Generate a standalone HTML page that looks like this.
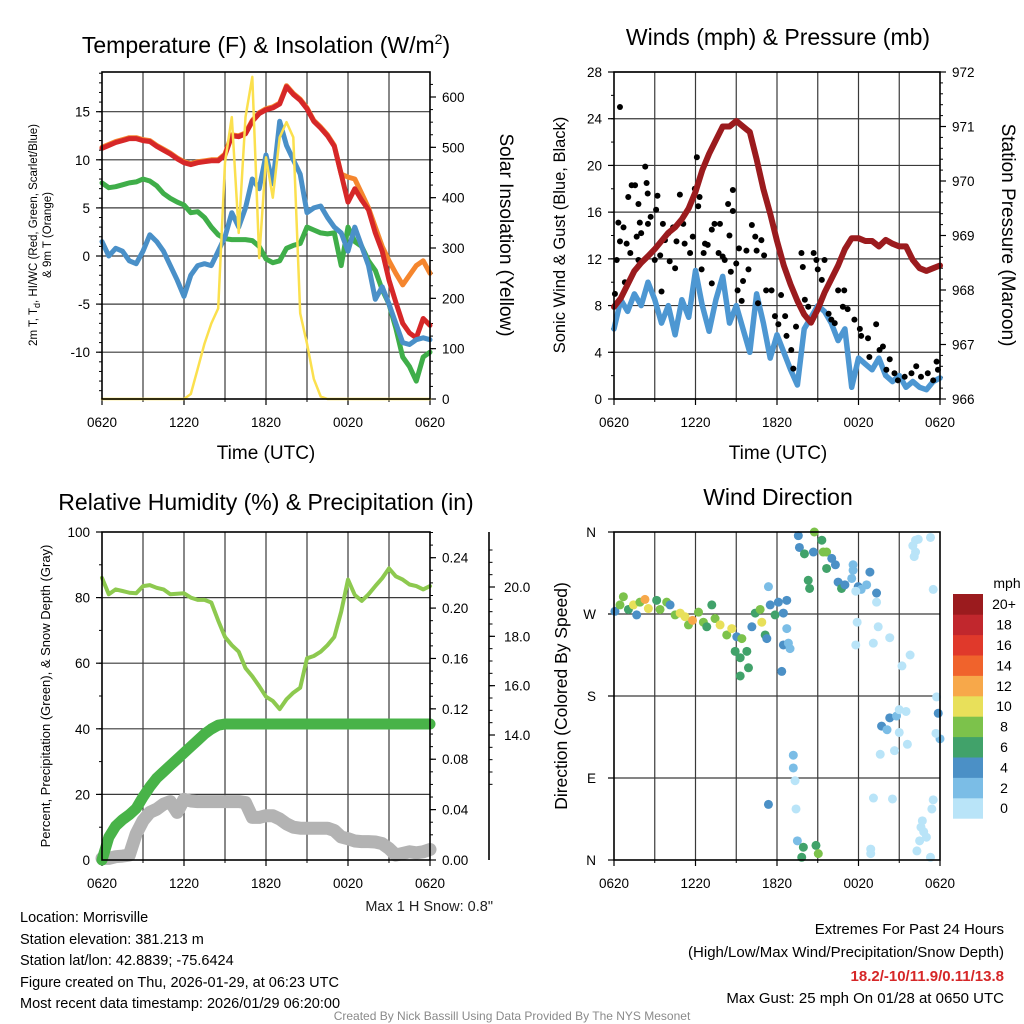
<!DOCTYPE html>
<html><head><meta charset="utf-8"><style>
body{margin:0;background:#fff;}
svg{display:block;font-family:"Liberation Sans",Arial,sans-serif;}
</style></head><body>
<svg id="s" width="1024" height="1024" viewBox="0 0 1024 1024" xmlns="http://www.w3.org/2000/svg">
<rect width="1024" height="1024" fill="#fff"/>
<text x="266" y="53" font-size="23" text-anchor="middle">Temperature (F) &amp; Insolation (W/m<tspan dy="-9" font-size="14">2</tspan><tspan dy="9">)</tspan></text>
<text x="778" y="45" font-size="23" text-anchor="middle">Winds (mph) &amp; Pressure (mb)</text>
<text x="266" y="510" font-size="23" text-anchor="middle">Relative Humidity (%) &amp; Precipitation (in)</text>
<text x="778" y="505" font-size="23" text-anchor="middle">Wind Direction</text>
<text x="266" y="459" font-size="19" text-anchor="middle">Time (UTC)</text>
<text x="778" y="459" font-size="19" text-anchor="middle">Time (UTC)</text>
<text transform="translate(37,235) rotate(-90)" font-size="11.5" text-anchor="middle">2m T, T<tspan dy="3" font-size="9">d</tspan><tspan dy="-3">, HI/WC (Red, Green, Scarlet/Blue)</tspan></text>
<text transform="translate(51,235) rotate(-90)" font-size="11.5" text-anchor="middle">&amp; 9m T (Orange)</text>
<text transform="translate(500,235) rotate(90)" font-size="19" text-anchor="middle">Solar Insolation (Yellow)</text>
<text transform="translate(565,235) rotate(-90)" font-size="16.5" text-anchor="middle">Sonic Wind &amp; Gust (Blue, Black)</text>
<text transform="translate(1002,235) rotate(90)" font-size="19" text-anchor="middle">Station Pressure (Maroon)</text>
<text transform="translate(50,696) rotate(-90)" font-size="13" text-anchor="middle">Percent, Precipitation (Green), &amp; Snow Depth (Gray)</text>
<text transform="translate(567,696) rotate(-90)" font-size="17.5" text-anchor="middle">Direction (Colored By Speed)</text>
<text x="493" y="911" font-size="14.5" text-anchor="end" fill="#222">Max 1 H Snow: 0.8"</text>
<g font-size="14.5" fill="#000">
<text x="20" y="922">Location: Morrisville</text>
<text x="20" y="944">Station elevation: 381.213 m</text>
<text x="20" y="965">Station lat/lon: 42.8839; -75.6424</text>
<text x="20" y="987">Figure created on Thu, 2026-01-29, at 06:23 UTC</text>
<text x="20" y="1008">Most recent data timestamp: 2026/01/29 06:20:00</text>
</g>
<g font-size="15" text-anchor="end">
<text x="1004" y="934">Extremes For Past 24 Hours</text>
<text x="1004" y="957">(High/Low/Max Wind/Precipitation/Snow Depth)</text>
<text x="1004" y="981" fill="#d62728" font-weight="bold">18.2/-10/11.9/0.11/13.8</text>
<text x="1004" y="1003">Max Gust: 25 mph On 01/28 at 0650 UTC</text>
</g>
<text x="512" y="1020" font-size="12" text-anchor="middle" fill="#8a8a8a">Created By Nick Bassill Using Data Provided By The NYS Mesonet</text>
<g id="g"></g>
</svg>
<script>
// ---- data ----
const hours = []; for (let i = 0; i <= 48; i++) hours.push(i * 0.5);
const xTickLabels = ["0620","1220","1820","0020","0620"];
const tempRed = [11.2,11.5,11.8,12.0,12.2,12.2,12.0,11.9,11.4,11.0,10.6,10.1,9.7,9.5,9.7,9.8,9.9,9.9,10.5,12.5,12.4,12.7,14.0,14.8,15.2,15.4,15.8,17.6,16.8,16.2,15.3,14.0,13.3,12.5,11.4,8.5,5.6,7.0,5.8,4.8,2.4,0.5,-2.5,-4.8,-7.0,-8.0,-8.5,-6.5,-7.2];
const tempOrange = [11.3,11.6,11.9,12.1,12.3,12.3,12.1,12.0,11.5,11.1,10.7,10.2,9.8,9.6,9.8,9.9,10.0,10.0,10.6,12.6,12.5,12.8,14.1,14.9,15.3,15.5,15.9,17.7,16.9,16.3,15.4,14.1,13.4,12.6,11.5,8.5,8.2,8.0,6.5,5.0,3.0,1.0,-0.5,-1.8,-3.0,-2.0,-1.0,-0.5,-1.8];
const tempGreen = [7.6,7.1,7.2,7.4,7.6,7.7,8.0,7.8,7.3,6.5,6.0,5.6,5.3,4.5,4.6,4.0,3.0,2.2,1.8,1.7,1.7,1.7,1.6,1.0,-0.3,-0.7,-0.5,0.8,1.1,1.3,3.0,2.7,2.4,2.3,2.4,-1.0,3.0,1.5,1.0,-0.5,-1.5,-3.5,-5.0,-7.5,-10.5,-11.5,-13.0,-10.5,-10.0];
const tempBlue = [1.5,0.0,0.8,0.5,-0.5,-0.8,0.5,2.2,1.5,0.5,-1.0,-2.5,-4.2,-2.0,-1.0,-0.8,-1.0,0.5,2.0,4.5,3.0,5.0,8.0,7.0,10.5,7.5,14.0,11.5,10.0,8.5,4.5,5.0,5.2,4.0,3.0,2.4,0.5,3.0,1.0,-1.0,-4.5,-3.2,-5.0,-7.0,-9.0,-9.2,-8.7,-8.5,-8.7];
const solar = [0,0,0,0,0,0,0,0,0,0,0,0,0,10,60,110,150,180,470,560,330,560,640,280,480,400,520,550,520,170,110,40,5,0,0,0,0,0,0,0,0,0,0,0,0,0,0,0,0];
const pressure = [967.69,967.85,968.1,968.35,968.5,968.62,968.75,968.9,969.05,969.15,969.3,969.5,969.8,970.2,970.5,970.75,971.0,971.0,971.1,971.0,970.9,970.4,969.85,969.4,968.9,968.45,968.1,967.8,967.55,967.4,967.65,967.95,968.2,968.45,968.75,968.95,968.95,968.9,968.9,968.8,968.92,968.85,968.8,968.8,968.55,968.4,968.35,968.4,968.45];
const windSpeed = [6.0,8.5,7.5,9.0,8.0,10.0,8.5,6.5,8.0,5.5,8.5,7.0,11.0,8.0,5.8,8.5,10.5,6.5,8.0,6.0,4.0,9.0,6.5,3.5,5.5,4.0,2.5,1.2,6.0,7.0,8.0,7.5,6.5,5.0,6.0,1.0,3.5,3.0,2.5,3.5,2.0,1.5,2.0,1.0,1.5,1.0,0.8,1.5,1.8];
const gustHour = [0.44,0.07,0.2,0.32,0.44,0.7,0.8,0.93,1.05,1.2,1.3,1.55,1.67,1.8,1.8,1.9,2.0,2.3,2.4,2.48,2.5,2.7,3.0,3.1,3.2,3.4,3.5,3.6,3.75,4.0,4.1,4.35,4.5,4.6,4.85,5.1,5.2,5.6,5.8,5.95,6.1,6.2,6.3,6.45,6.6,6.7,6.9,7.2,7.2,7.4,7.7,7.8,8.0,8.15,8.4,8.5,8.6,8.75,8.75,9.0,9.1,9.2,9.4,9.5,9.75,9.9,10.15,10.4,10.5,10.6,10.85,11.05,11.2,11.6,11.85,12.1,12.3,12.6,12.7,13.05,13.2,13.4,13.8,13.9,14.05,14.3,14.7,14.9,15.0,15.3,15.5,15.8,16.0,16.25,16.5,16.85,16.95,17.2,17.7,18.1,18.2,18.7,18.8,19.3,19.55,19.8,20.05,20.3,20.65,20.9,21.4,21.9,22.25,22.6,23.1,23.5,23.75,23.85];
const gustSpeed = [25.0,9.0,11.9,15.1,13.5,14.7,10.0,13.3,17.3,12.5,18.3,18.3,13.9,16.7,11.9,15.1,14.2,19.9,18.5,17.6,15.0,15.6,11.9,16.2,17.4,12.3,9.2,15.0,13.6,14.2,11.8,14.7,11.2,13.5,17.5,15.0,13.3,12.5,13.9,18.0,20.7,16.5,17.3,11.1,12.5,13.3,13.2,14.5,9.9,15.0,12.5,15.0,12.2,11.9,16.7,14.0,10.9,16.1,17.9,11.6,9.3,12.9,8.4,10.1,12.7,11.1,14.9,13.9,12.7,8.2,13.6,12.3,9.3,9.3,7.1,6.4,8.9,7.1,5.4,4.2,2.6,6.2,12.5,11.3,8.5,7.9,12.5,11.9,11.1,10.2,11.9,7.3,6.8,6.5,9.3,7.9,9.3,7.7,6.8,6.0,5.4,5.2,3.6,6.4,4.2,4.5,2.5,3.4,2.2,1.6,1.9,2.2,2.8,1.9,2.2,1.6,3.2,2.5];
const rhPct = [86,81,82.5,82,81.5,81.3,83.5,83.8,83,82.5,81,81.2,81.3,80,79.3,79.3,78.5,73,68,65.5,63.5,58.5,56,53,49.8,48.5,46,49,51,52.5,61.5,62.2,63.5,65.5,68,75.7,85.5,80.8,79,81,83.5,85.9,88.9,86.5,85.5,84,83.5,82.5,83.5];
const precipIn = [0,0.018,0.027,0.032,0.036,0.041,0.050,0.058,0.065,0.070,0.075,0.080,0.085,0.090,0.095,0.100,0.104,0.107,0.108,0.108,0.108,0.108,0.108,0.108,0.108,0.108,0.108,0.108,0.108,0.108,0.108,0.108,0.108,0.108,0.108,0.108,0.108,0.108,0.108,0.108,0.108,0.108,0.108,0.108,0.108,0.108,0.108,0.108,0.108];
const snowPct = [0.5,0.5,1,1.2,1.5,8,12,14.5,15.5,17,17.8,14.5,18.5,18,17.8,17.8,17.8,17.8,17.8,17.8,17.8,17.5,13,13,13.5,13.5,12.5,11,10,9.7,9.7,9.7,9.7,9.7,9,7,6.5,5.8,5.6,5.6,5.5,5.0,3.5,1.5,2.0,2.5,2.2,2.5,3.2];
const dirHour = [0.07,0.44,0.69,1.06,1.43,1.67,1.91,2.28,2.53,3.14,3.39,3.88,4.13,4.5,4.87,5.23,5.48,5.78,6.22,6.58,6.83,7.2,7.44,7.81,8.3,8.67,9.04,9.41,8.92,9.29,9.78,9.9,9.29,10.15,10.4,10.76,10.88,11.13,11.25,11.37,11.5,11.86,12.1,12.47,12.72,12.72,12.47,12.84,12.96,12.35,13.2,13.2,13.33,11.37,13.4,13.5,13.94,13.82,14.87,15.04,13.57,13.65,14.02,14.68,14.75,15.3,15.4,15.65,16.03,16.3,15.65,14.3,14.4,16.5,16.75,17.0,17.6,17.6,17.5,17.98,18.2,18.6,18.84,19.33,19.33,17.8,17.9,17.8,19.09,19.45,20.3,21.2,21.8,19.7,20.3,20.8,21.0,21.5,20.1,21.0,20.65,21.6,19.6,23.87,23.75,24.0,23.7,19.1,20.5,18.9,18.9,22.7,22.6,22.8,22.5,22.3,23.0,23.5,23.4,23.3,22.2,22.4,23.3,22.0,22.1,22.2,23.5];
const dirDeg = [273,280,289,275,280,269,283,286,276,285,275,283,280,269,271,267,258,263,272,261,256,280,265,258,247,254,245,243,229,222,229,211,202,256,271,275,261,247,243,300,280,269,283,271,285,254,236,238,232,207,115,101,87,61,56,21,14,3,16,7,356,343,336,338,360,351,338,338,331,324,320,307,298,305,298,302,324,318,309,300,297,302,316,293,283,295,261,236,238,256,244,213,225,147,156,158,165,163,143,140,120,127,116,161,179,133,139,68,67,12,7,43,36,31,21,10,25,66,56,3,351,352,354,345,333,338,297];
const dirSpd = [4,8,8,6,10,4,8,12,10,6,8,8,4,8,10,10,8,12,8,8,6,6,8,10,8,10,4,8,6,6,6,6,6,4,6,8,10,6,4,2,4,6,4,4,4,2,4,2,2,4,2,2,0,4,0,2,6,6,6,8,4,4,6,4,8,6,8,8,4,4,6,6,6,4,6,4,2,2,2,4,2,2,4,4,0,0,0,0,0,0,0,0,0,4,4,2,0,0,2,0,0,0,0,4,0,2,0,0,0,0,0,0,0,0,0,0,0,0,0,0,0,0,0,0,0,0,0];
const speedBins = ["0","2","4","6","8","10","12","14","16","18","20+"];
const binColors = ["#b9e4f8","#7bbde6","#4b90c6","#41a26a","#7cc24b","#e8e05a","#f7a84a","#f0632c","#e0392b","#c1272d","#9b1b1e"];
const tempTicks = [-10,-5,0,5,10,15];
const solarTicks = [0,100,200,300,400,500,600];
const windTicks = [0,4,8,12,16,20,24,28];
const presTicks = [966,967,968,969,970,971,972];
const rhTicks = [0,20,40,60,80,100];
const precipTicks = [0,0.04,0.08,0.12,0.16,0.20,0.24];
const snowTicks = ["14.0","16.0","18.0","20.0"];
const dirTicks = ["N","E","S","W","N"];

// ---- helpers ----
const NS = "http://www.w3.org/2000/svg";
const root = document.getElementById("g");
function mk(tag, attrs, parent) {
  const e = document.createElementNS(NS, tag);
  for (const k in attrs) e.setAttribute(k, attrs[k]);
  (parent || root).appendChild(e);
  return e;
}
function lin(d0, d1, r0, r1) { return v => r0 + (v - d0) / (d1 - d0) * (r1 - r0); }

const P1 = {x0:102, x1:430, y0:72, y1:399};
const P2 = {x0:614, x1:940, y0:72, y1:399};
const P3 = {x0:102, x1:430, y0:532, y1:860};
const P4 = {x0:614, x1:940, y0:532, y1:860};
const x1s = lin(0, 24, P1.x0, P1.x1);
const x2s = lin(0, 24, P2.x0, P2.x1);
const tempY = lin(0, 15, 256, 111.7);
const solarY = lin(0, 600, 399, 97);
const windY = lin(0, 28, 399, 72);
const presY = lin(966, 972, 399, 72);
const rhY = lin(0, 100, 860, 532);
const precipY = lin(0, 0.24, 860, 557.7);
const dirY = lin(0, 360, 860, 532);

function frame(P, xs, gridYs, name) {
  const g = mk("g", {});
  
  
  for (let h = 3; h < 24; h += 3) {
    const l = mk("line", {x1: xs(h), x2: xs(h), y1: P.y0, y2: P.y1, stroke: "#3a3a3a", "stroke-width": 1.2}, g);
    
    
  }
  gridYs.forEach(y => {
    const l = mk("line", {x1: P.x0, x2: P.x1, y1: y, y2: y, stroke: "#3a3a3a", "stroke-width": 1.2}, g);
    
    
  });
  xTickLabels.forEach((lab, i) => {
    const x = xs(i * 6);
    mk("line", {x1: x, x2: x, y1: P.y1, y2: P.y1 + 6, stroke: "#000", "stroke-width": 1.2}, g);
    const t = mk("text", {x: x, y: P.y1 + 28, "font-size": 13.5, "text-anchor": "middle"}, g);
    t.textContent = lab;
    
    
  });
  for (let h = 0; h <= 24; h += 3) mk("line", {x1: xs(h), x2: xs(h), y1: P.y1, y2: P.y1 + 3, stroke: "#000"}, g);
}
function border(P, name) {
  const r = mk("rect", {x: P.x0, y: P.y0, width: P.x1 - P.x0, height: P.y1 - P.y0, fill: "none", stroke: "#000", "stroke-width": 1.6});
  
  
}
function yAxisLeft(P, vals, ys, fmt, minorStep, name) {
  const g = mk("g", {});
  
  
  vals.forEach(v => {
    const y = ys(v);
    mk("line", {x1: P.x0 - 6, x2: P.x0, y1: y, y2: y, stroke: "#000", "stroke-width": 1.2}, g);
    const t = mk("text", {x: P.x0 - 12, y: y + 5, "font-size": 13.5, "text-anchor": "end"}, g);
    t.textContent = fmt(v);
    
    
  });
  if (minorStep) {
    for (let v = vals[0] - 5 * minorStep; v <= vals[vals.length - 1] + 5 * minorStep; v += minorStep) {
      const y = ys(v);
      if (y > P.y0 && y < P.y1) mk("line", {x1: P.x0 - 3, x2: P.x0, y1: y, y2: y, stroke: "#000"}, g);
    }
  }
}
function yAxisRight(P, vals, ys, fmt, minorStep, name) {
  const g = mk("g", {});
  
  
  vals.forEach(v => {
    const y = ys(v);
    mk("line", {x1: P.x1, x2: P.x1 + 6, y1: y, y2: y, stroke: "#000", "stroke-width": 1.2}, g);
    const t = mk("text", {x: P.x1 + 12, y: y + 5, "font-size": 13.5}, g);
    t.textContent = fmt(v);
    
    
  });
  for (let v = vals[0]; v <= vals[vals.length - 1] + 3 * minorStep; v += minorStep) {
    const y = ys(v);
    if (y >= P.y0 && y <= P.y1) mk("line", {x1: P.x1, x2: P.x1 + 3, y1: y, y2: y, stroke: "#000"}, g);
  }
}
function series(xs, ys, xsArr, vals, color, w, name) {
  const pts = vals.map((v, i) => xs(xsArr[i]).toFixed(1) + "," + ys(v).toFixed(1)).join(" ");
  const p = mk("polyline", {points: pts, fill: "none", stroke: color, "stroke-width": w, "stroke-linejoin": "round", "stroke-linecap": "round"});
  
  
}

// ---- panel 1 ----
frame(P1, x1s, tempTicks.map(tempY), "temp");
yAxisLeft(P1, tempTicks, tempY, v => String(v), 1, "temp-y-axis");
yAxisRight(P1, solarTicks, solarY, v => String(v), 25, "solar-y-axis");
series(x1s, tempY, hours, tempOrange, "#f5862e", 5, "temp-9m-orange-line");
series(x1s, tempY, hours, tempRed, "#d62728", 5, "temp-2m-red-line");
series(x1s, tempY, hours, tempGreen, "#3fae49", 5, "dewpoint-green-line");
series(x1s, tempY, hours, tempBlue, "#4a90c8", 5, "windchill-blue-line");
series(x1s, solarY, hours, solar, "#fbe04e", 2.5, "solar-yellow-line");
border(P1, "temp");

// ---- panel 2 ----
frame(P2, x2s, windTicks.map(windY), "wind");
yAxisLeft(P2, windTicks, windY, v => String(v), 2, "wind-y-axis");
yAxisRight(P2, presTicks, presY, v => String(v), 0.2, "pressure-y-axis");
series(x2s, windY, hours, windSpeed, "#4d97d2", 5.5, "sonic-wind-line");
gustHour.forEach((h, i) => {
  const c = mk("circle", {cx: x2s(h), cy: windY(gustSpeed[i]), r: 3, fill: "#000"});
  
  
});
series(x2s, presY, hours, pressure, "#9b1b1e", 6, "pressure-line");
border(P2, "wind");

// ---- panel 3 ----
frame(P3, x1s, [20, 40, 60, 80].map(rhY), "rh");
yAxisLeft(P3, rhTicks, rhY, v => String(v), 10, "rh-y-axis");
yAxisRight(P3, precipTicks, precipY, v => v.toFixed(2), 0.01, "precip-y-axis");
series(x1s, rhY, hours, snowPct, "#b3b3b3", 13, "snow-depth-line");
series(x1s, precipY, hours, precipIn, "#48b348", 11, "precip-line");
series(x1s, rhY, hours, rhPct, "#8dc94f", 4, "rh-line");
border(P3, "rh");
(function(){
  const g = mk("g", {});
  
  
  mk("line", {x1: 489, x2: 489, y1: 532, y2: 860, stroke: "#000", "stroke-width": 1.6}, g);
  const sy = lin(14, 20, 735, 587);
  snowTicks.forEach(s => {
    const y = sy(parseFloat(s));
    mk("line", {x1: 489, x2: 495, y1: y, y2: y, stroke: "#000", "stroke-width": 1.2}, g);
    const t = mk("text", {x: 504, y: y + 5, "font-size": 13.5}, g);
    t.textContent = s;
    
    
  });
  for (let v = 12; v <= 21.9; v += 0.5) {
    const y = sy(v);
    if (y > 532 && y < 860) mk("line", {x1: 489, x2: 492.5, y1: y, y2: y, stroke: "#000"}, g);
  }
})();

// ---- panel 4 ----
frame(P4, x2s, [90, 180, 270].map(dirY), "dir");
(function(){
  const g = mk("g", {});
  
  
  dirTicks.forEach((lab, i) => {
    const y = dirY(i * 90);
    mk("line", {x1: P4.x0 - 6, x2: P4.x0, y1: y, y2: y, stroke: "#000", "stroke-width": 1.2}, g);
    const t = mk("text", {x: P4.x0 - 18, y: y + 5, "font-size": 13.5, "text-anchor": "end"}, g);
    t.textContent = lab;
    
    
  });
})();
dirHour.forEach((h, i) => {
  const c = mk("circle", {cx: Math.min(x2s(h), 940), cy: dirY(dirDeg[i]), r: 4.5, fill: binColors[Math.min(10, Math.floor(dirSpd[i] / 2))]});
  
  
});
border(P4, "dir");

// colorbar
(function(){
  const g = mk("g", {});
  
  
  const h = 20.4, top = 594;
  speedBins.forEach((lab, i) => {
    const y = top + (10 - i) * h;
    const r = mk("rect", {x: 953, y: y, width: 30, height: h + 0.3, fill: binColors[i]}, g);
    
    
    const t = mk("text", {x: 1004, y: y + h / 2 + 5, "font-size": 14, "text-anchor": "middle"}, g);
    t.textContent = lab;
    
    
  });
  const u = mk("text", {x: 1007, y: 588, "font-size": 14, "text-anchor": "middle"}, g);
  u.textContent = "mph";
  
  
})();
</script>
</body></html>
